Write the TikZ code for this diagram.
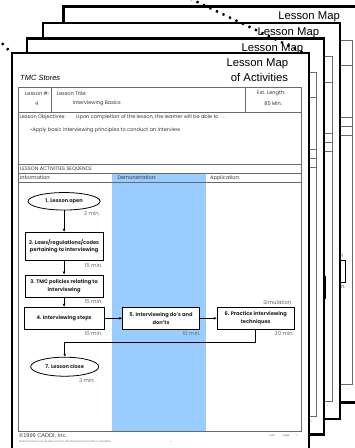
\documentclass[tikz,border=0pt]{standalone}
\usepackage{fontspec}
\setmainfont{Poppins}
\newfontfamily\arialf{Liberation Sans}
\usetikzlibrary{shapes.geometric,arrows.meta}
\definecolor{demoblue}{RGB}{153,204,255}
\definecolor{rulegray}{RGB}{105,105,105}
\newlength\fitlen
% set #2 at the size that makes it #1 pt wide
\newcommand\fitto[2]{\settowidth\fitlen{\fontsize{10}{12}\selectfont #2}%
  \pgfmathsetmacro\fitsz{10*#1/\fitlen}%
  {\fontsize{\fitsz}{\fitsz}\selectfont #2}}
\tikzset{
  pageframe/.style={draw=black, line width=2.3pt, fill=white},
  rulel/.style={draw=rulegray, line width=0.9pt},
  smalltxt/.style={font=\fontsize{\smallsz}{\smallsz}\selectfont, inner sep=0pt, text=black!80, anchor=west},
  boxtxt/.style={font=\fontsize{\boxsz}{7.4}\selectfont\bfseries, text=black!85, align=center},
  flowbox/.style={rectangle, draw=black, line width=0.8pt, fill=white, inner sep=0pt, boxtxt},
  flowoval/.style={ellipse, draw=black, line width=0.8pt, fill=white, inner sep=0pt, boxtxt},
  mintxt/.style={font=\fontsize{\minsz}{\minsz}\selectfont, text=black!60, inner sep=0pt, anchor=east},
  flowarrow/.style={draw=black, line width=0.8pt, -{Latex[length=3pt,width=2.8pt]}},
  dotline/.style={draw=black, line width=2.4pt, dash pattern=on 2.2pt off 5pt},
  titletxt/.style={font=\arialf\fontsize{\titlesz}{\titlesz}\selectfont, anchor=east, inner sep=0pt},
  tinytxt/.style={text=black!60, inner sep=0pt, anchor=west},
  foottxt/.style={font=\fontsize{2.6}{3}\selectfont, text=black!60, inner sep=0pt, anchor=west},
}
\newcommand\lessonpage[3]{%
\begin{scope}[shift={(#2,#3)}, name prefix=#1-]
  \path[pageframe] (0,0) rectangle (297,396);
  \fill[demoblue] (100.6,120.2) rectangle (194.3,378.4);
  \draw[rulel] (6.3,34) rectangle (289.3,378.4);
  \draw[rulel] (6.3,59.4) -- (289.3,59.4);
  \draw[rulel] (40,34) -- (40,59.4);
  \draw[rulel] (233.3,34) -- (233.3,59.4);
  \draw[rulel] (6.3,111.2) -- (289.3,111.2);
  \draw[rulel] (6.3,120.2) -- (289.3,120.2);
  \draw[rulel] (6.3,129.2) -- (289.3,129.2);
  \node[titletxt] (t1) at (276.6,10) {Lesson Map};
  \node[titletxt] (t2) at (276.6,24) {of Activities};
  \node[font=\arialf\itshape, anchor=west, inner sep=0pt] (store) at (8.3,25) {\fitto{40}{TMC Stores}};
  \node[smalltxt] (lnum) at (13.3,40) {Lesson \#:};
  \node[smalltxt, anchor=center] (lnumv) at (25,50) {4};
  \node[smalltxt] (ltitle) at (45,40) {Lesson Title:};
  \node[smalltxt] (ltitlev) at (61,50) {Interviewing Basics};
  \node[smalltxt, anchor=center] (elen) at (259.5,40) {Est. Length:};
  \node[smalltxt, anchor=center] (elenv) at (261.5,50) {85 Min.};
  \node[smalltxt] (obj) at (7.8,64) {Lesson Objectives:};
  \node[smalltxt] (objt) at (64.3,64) {Upon completion of the lesson, the learner will be able to . . .};
  \node[smalltxt] (obj1) at (18.3,76.7) {•Apply basic interviewing principles to conduct an interview};
  \node[smalltxt] (seq) at (8.3,115.7) {LESSON ACTIVITIES SEQUENCE};
  \node[smalltxt] (hinfo) at (8.3,124.7) {Information:};
  \node[smalltxt] (hdemo) at (105.6,124.7) {Demonstration:};
  \node[smalltxt] (happ) at (198.3,124.7) {Application:};
  % flowchart
  \node[flowoval, minimum width=72, minimum height=17.5] (e1) at (52.4,148) {1. Lesson open};
  \node[mintxt] (m1) at (88.3,160) {2 min.};
  \node[flowbox, minimum width=78.3, minimum height=28.4] (b2) at (52.4,193.2) {2. Laws/regulations/codes\\pertaining to interviewing};
  \node[mintxt] (m2) at (91,211.7) {15 min.};
  \node[flowbox, minimum width=78.3, minimum height=22.7] (b3) at (52.4,233) {3. TMC policies relating to\\interviewing};
  \node[mintxt] (m3) at (91,248.4) {15 min.};
  \node[flowbox, minimum width=79.7, minimum height=22] (b4) at (52.4,265) {4. Interviewing steps};
  \node[mintxt] (m4) at (91,280) {10 min.};
  \node[flowbox, minimum width=76.6, minimum height=22] (b5) at (149.3,265) {5. Interviewing do's and\\don'ts};
  \node[mintxt] (m5) at (189,280) {10 min.};
  \node[flowbox, minimum width=76.7, minimum height=22] (b6) at (244,265) {6. Practice interviewing\\techniques};
  \node[mintxt] (sim) at (280,249) {Simulation};
  \node[mintxt] (m6) at (282.3,280) {30 min.};
  \node[flowoval, minimum width=68, minimum height=19] (e7) at (53,313.4) {7. Lesson close};
  \node[mintxt] (m7) at (83.3,327.4) {3 min.};
  \coordinate (turn) at (244,288.7);
  \draw[flowarrow] (e1.south) -- (b2.north);
  \draw[flowarrow] (b2.south) -- (b3.north);
  \draw[flowarrow] (b3.south) -- (b4.north);
  \draw[flowarrow] (b4.east) -- (b5.west);
  \draw[flowarrow] (b5.east) -- (b6.west);
  \draw[flowarrow] (b6.south) -- (turn) -| (e7.north);
  % footer
  \node[font=\arialf, text=black!75, inner sep=0pt, anchor=west] (copy) at (7.3,382.7) {\fitto{47.7}{©1999 CADDI, Inc.}};
  \node[tinytxt] (fine) at (7.3,388.7) {\fitto{92}{REPRODUCTION OF THIS MATERIAL WITHOUT WRITTEN PERMISSION IS STRICTLY PROHIBITED}};
  \node[tinytxt] (finen) at (158.3,388.7) {\fontsize{2}{2}\selectfont n};
  \node[foottxt] (fcode) at (257.6,382.7) {LM4};
  \node[foottxt] (fpage) at (270.9,382.7) {Page};
  \node[foottxt] (fnum) at (284,382.7) {1};
\end{scope}}
\begin{document}
\settowidth\fitlen{\fontsize{10}{12}\selectfont •Apply basic interviewing principles to conduct an interview}%
\pgfmathsetmacro\smallsz{10*150/\fitlen}%
\settowidth\fitlen{\bfseries\fontsize{10}{12}\selectfont 4. Interviewing steps}%
\pgfmathsetmacro\boxsz{10*55/\fitlen}%
\settowidth\fitlen{\fontsize{10}{12}\selectfont 15 min.}%
\pgfmathsetmacro\minsz{10*17.7/\fitlen}%
\settowidth\fitlen{\arialf\fontsize{10}{12}\selectfont Lesson Map}%
\pgfmathsetmacro\titlesz{10*61.6/\fitlen}%
\begin{tikzpicture}[x=1pt,y=-1pt]
  \useasboundingbox (0,0) rectangle (355,448);
  \clip (0,0) rectangle (355,448);
  \fill[white] (0,0) rectangle (355,448);
  \lessonpage{p4}{63.5}{6.5}
  \lessonpage{p3}{42.7}{22.7}
  \lessonpage{p2}{26.7}{38.5}
  \coordinate (dr1) at (190,-1.5);
  \coordinate (dr2) at (303,52.5);
  \coordinate (dl1) at (-3,38);
  \coordinate (dl2) at (10.5,52);
  \draw[dotline] (dr1) -- (dr2);
  \draw[dotline] (dl1) -- (dl2);
  \lessonpage{p1}{11.7}{53.3}
\end{tikzpicture}
\end{document}
